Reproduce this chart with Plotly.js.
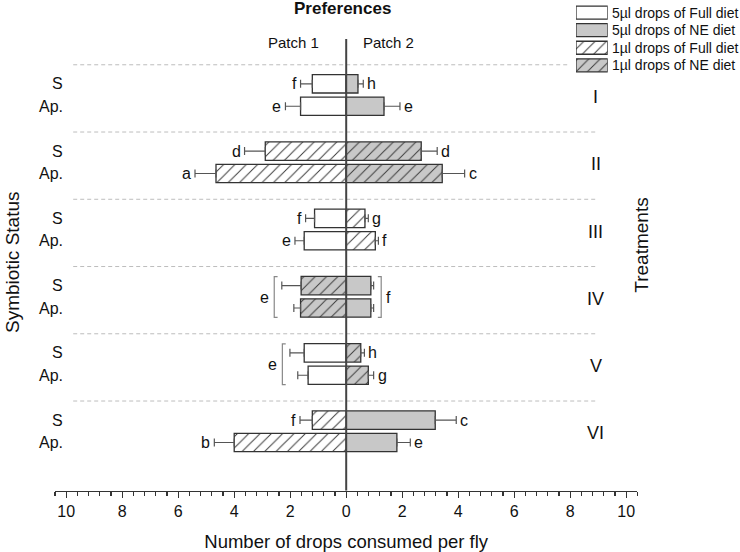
<!DOCTYPE html>
<html><head><meta charset="utf-8">
<script src="https://cdn.plot.ly/plotly-3.0.1.min.js"></script>
<style>html,body{margin:0;padding:0;background:#fff}</style>
</head><body><div id="chart" style="width:740px;height:552px"></div>
<script>
// ---------- data ----------
const treatments = ['I', 'II', 'III', 'IV', 'V', 'VI'];
const statuses = ['S', 'Ap.'];
// rows: I-S, I-Ap, II-S, II-Ap, ... VI-S, VI-Ap
const patch1Mean = [1.21, 1.63, 2.89, 4.65, 1.13, 1.50, 1.61, 1.63, 1.50, 1.36, 1.21, 4.00];
const patch1Err  = [0.42, 0.54, 0.74, 0.75, 0.32, 0.33, 0.69, 0.24, 0.51, 0.37, 0.44, 0.71];
const patch2Mean = [0.42, 1.35, 2.68, 3.43, 0.67, 1.04, 0.88, 0.88, 0.52, 0.79, 3.18, 1.81];
const patch2Err  = [0.19, 0.57, 0.57, 0.80, 0.12, 0.11, 0.10, 0.10, 0.13, 0.19, 0.75, 0.48];
const patch1Letters = ['f', 'e', 'd', 'a', 'f', 'e', '', '', '', '', 'f', 'b'];
const patch2Letters = ['h', 'e', 'd', 'c', 'g', 'f', '', '', 'h', 'g', 'c', 'e'];
// diet offered on each patch, per treatment
const patch1Diet = ['5F', '1F', '5F', '1NE', '5F', '1F'];
const patch2Diet = ['5NE', '1NE', '1F', '5NE', '1NE', '5NE'];
// grouped letters (brackets)
const bracketTreatment = [3, 3, 4];
const bracketSide = [-1, 1, -1];
const bracketLetter = ['e', 'f', 'e'];
// legend
const legendKeys = ['5F', '5NE', '1F', '1NE'];
const legendLabels = ['5µl drops of Full diet', '5µl drops of NE diet', '1µl drops of Full diet', '1µl drops of NE diet'];
const xTickVals = [-10, -8, -6, -4, -2, 0, 2, 4, 6, 8, 10];
const xTickText = ['10', '8', '6', '4', '2', '0', '2', '4', '6', '8', '10'];

// ---------- styling ----------
const W = 740, H = 552;
const FONT = 'Liberation Sans, Arial, sans-serif';
const TXT = '#111';
const GREY = '#c8c8c8';
const STYLE = {
  '5F': {color: '#ffffff', shape: ''},
  '5NE': {color: GREY, shape: ''},
  '1F': {color: '#ffffff', shape: '/'},
  '1NE': {color: GREY, shape: '/'}
};
const PX = x => x / W;
const PY = y => 1 - y / H;

const rowY = patch1Mean.map((_, i) => 3 * Math.floor(i / 2) + (i % 2 ? 1.85 : 0.85));
const rowDiet1 = patch1Mean.map((_, i) => patch1Diet[Math.floor(i / 2)]);
const rowDiet2 = patch2Mean.map((_, i) => patch2Diet[Math.floor(i / 2)]);

function barMarker(key) {
  const s = STYLE[key];
  const m = {color: s.color, line: {color: '#333', width: 1.3}};
  if (s.shape) m.pattern = {shape: s.shape, fillmode: 'replace', bgcolor: s.color, fgcolor: '#3a3a3a',
    fgopacity: 1, size: 8, solidity: 0.12};
  return m;
}

const traces = [];
legendKeys.forEach(key => {
  // Patch 1 (left, negative direction)
  const r1 = rowY.map((_, i) => i).filter(i => rowDiet1[i] === key);
  if (r1.length) traces.push({
    type: 'bar', orientation: 'h', x: r1.map(i => -patch1Mean[i]), y: r1.map(i => rowY[i]), width: 0.82,
    marker: barMarker(key),
    error_x: {type: 'data', symmetric: false, array: r1.map(() => 0), arrayminus: r1.map(i => patch1Err[i]),
      color: '#555', thickness: 1.2, width: 4},
    showlegend: false, hoverinfo: 'skip'
  });
  // Patch 2 (right)
  const r2 = rowY.map((_, i) => i).filter(i => rowDiet2[i] === key);
  if (r2.length) traces.push({
    type: 'bar', orientation: 'h', x: r2.map(i => patch2Mean[i]), y: r2.map(i => rowY[i]), width: 0.82,
    marker: barMarker(key),
    error_x: {type: 'data', symmetric: false, array: r2.map(i => patch2Err[i]), arrayminus: r2.map(() => 0),
      color: '#555', thickness: 1.2, width: 4},
    showlegend: false, hoverinfo: 'skip'
  });
});
// legend swatches
legendKeys.forEach((key, i) => {
  traces.push({type: 'bar', orientation: 'h', x: [1], y: [i], width: 0.74, xaxis: 'x2', yaxis: 'y2',
    marker: barMarker(key), showlegend: false, hoverinfo: 'skip'});
});

const annotations = [];
const shapes = [];
const f = (size, extra) => Object.assign({family: FONT, size: size, color: TXT}, extra || {});

// status labels and letters
rowY.forEach((y, i) => {
  annotations.push({xref: 'paper', yref: 'y', x: PX(65), y: y, text: statuses[i % 2], showarrow: false,
    xanchor: 'right', yanchor: 'middle', font: f(16)});
  if (patch1Letters[i]) annotations.push({xref: 'x', yref: 'y', x: -(patch1Mean[i] + patch1Err[i]), y: y,
    text: patch1Letters[i], showarrow: false, xanchor: 'right', yanchor: 'middle', xshift: -2, font: f(16)});
  if (patch2Letters[i]) annotations.push({xref: 'x', yref: 'y', x: patch2Mean[i] + patch2Err[i], y: y,
    text: patch2Letters[i], showarrow: false, xanchor: 'left', yanchor: 'middle', xshift: 2, font: f(16)});
});

// treatment numerals and separators
treatments.forEach((t, k) => {
  annotations.push({xref: 'x', yref: 'y', x: 8.92, y: 3 * k + 1.44, text: t, showarrow: false,
    xanchor: 'center', yanchor: 'middle', font: f(18)});
  shapes.push({type: 'line', xref: 'x', yref: 'y', x0: -9.75, x1: k === 0 ? 8.0 : 8.96, y0: 3 * k, y1: 3 * k,
    line: {color: '#bdbdbd', width: 1, dash: '4px,3px'}, layer: 'below'});
});

// brackets
bracketTreatment.forEach((k, b) => {
  const side = bracketSide[b];
  const r = [2 * k, 2 * k + 1];
  const ext = side < 0 ? Math.max(...r.map(i => patch1Mean[i] + patch1Err[i]))
                       : Math.max(...r.map(i => patch2Mean[i] + patch2Err[i]));
  const bx = side * (ext + 0.27);
  const y0 = rowY[r[0]] - 0.4, y1 = rowY[r[1]] + 0.42;
  const t = -side * 0.12;
  shapes.push({type: 'path', xref: 'x', yref: 'y',
    path: `M${bx + t},${y0} L${bx},${y0} L${bx},${y1} L${bx + t},${y1}`,
    line: {color: '#888', width: 1.2}});
  annotations.push({xref: 'x', yref: 'y', x: bx, y: (y0 + y1) / 2, text: bracketLetter[b], showarrow: false,
    xanchor: side < 0 ? 'right' : 'left', yanchor: 'middle', xshift: side * 3, font: f(16)});
});

// zero line
shapes.push({type: 'line', xref: 'x', yref: 'y', x0: 0, x1: 0, y0: -1.15, y1: 19,
  line: {color: '#444', width: 2}, layer: 'above'});

// legend labels
legendLabels.forEach((lab, i) => {
  annotations.push({xref: 'paper', yref: 'y2', x: PX(610), y: i, text: lab, showarrow: false,
    xanchor: 'left', yanchor: 'middle', font: f(14)});
});

// other texts
annotations.push({xref: 'paper', yref: 'paper', x: PX(293), y: PY(42.5), text: 'Patch 1', showarrow: false,
  xanchor: 'center', yanchor: 'middle', font: f(15)});
annotations.push({xref: 'paper', yref: 'paper', x: PX(388), y: PY(42.5), text: 'Patch 2', showarrow: false,
  xanchor: 'center', yanchor: 'middle', font: f(15)});
annotations.push({xref: 'paper', yref: 'paper', x: PX(12), y: PY(262), text: 'Symbiotic Status', showarrow: false,
  textangle: -90, xanchor: 'center', yanchor: 'middle', font: f(19)});
annotations.push({xref: 'paper', yref: 'paper', x: PX(641.7), y: PY(245), text: 'Treatments', showarrow: false,
  textangle: -90, xanchor: 'center', yanchor: 'middle', font: f(19)});

const layout = {
  width: W, height: H, autosize: false,
  margin: {l: 0, r: 0, t: 0, b: 0, pad: 0},
  paper_bgcolor: '#fff', plot_bgcolor: 'rgba(0,0,0,0)',
  font: {family: FONT, color: TXT},
  barmode: 'overlay',
  showlegend: false,
  title: {text: '<b>Preferences</b>', font: f(17), x: PX(342.7), xanchor: 'center', xref: 'paper',
    y: PY(8.5), yanchor: 'middle', yref: 'container'},
  xaxis: {
    domain: [PX(55), PX(637.4)], range: [-10.4, 10.4], anchor: 'y',
    tickmode: 'array', tickvals: xTickVals, ticktext: xTickText,
    ticks: 'outside', ticklen: 6, tickwidth: 1.3, tickcolor: '#333',
    minor: {dtick: 0.4, tick0: 0, ticks: 'outside', ticklen: 3.5, tickwidth: 1.1, tickcolor: '#333', showgrid: false},
    showline: true, linecolor: '#333', linewidth: 1.4,
    showgrid: false, zeroline: false, tickfont: f(16),
    title: {text: 'Number of drops consumed per fly', font: f(18.5), standoff: 16},
    automargin: false, fixedrange: true
  },
  yaxis: {
    domain: [PY(490.7), PY(39)], range: [19, -1.15], anchor: 'x',
    visible: false, showgrid: false, zeroline: false, fixedrange: true
  },
  xaxis2: {domain: [PX(576), PX(607.7)], range: [0, 1], anchor: 'y2', visible: false, fixedrange: true},
  yaxis2: {domain: [PY(74.1), PY(3.87)], range: [3.5, -0.5], anchor: 'x2', visible: false, fixedrange: true},
  annotations: annotations,
  shapes: shapes
};

Plotly.newPlot('chart', traces, layout, {staticPlot: true, displayModeBar: false});
</script>
</body></html>
